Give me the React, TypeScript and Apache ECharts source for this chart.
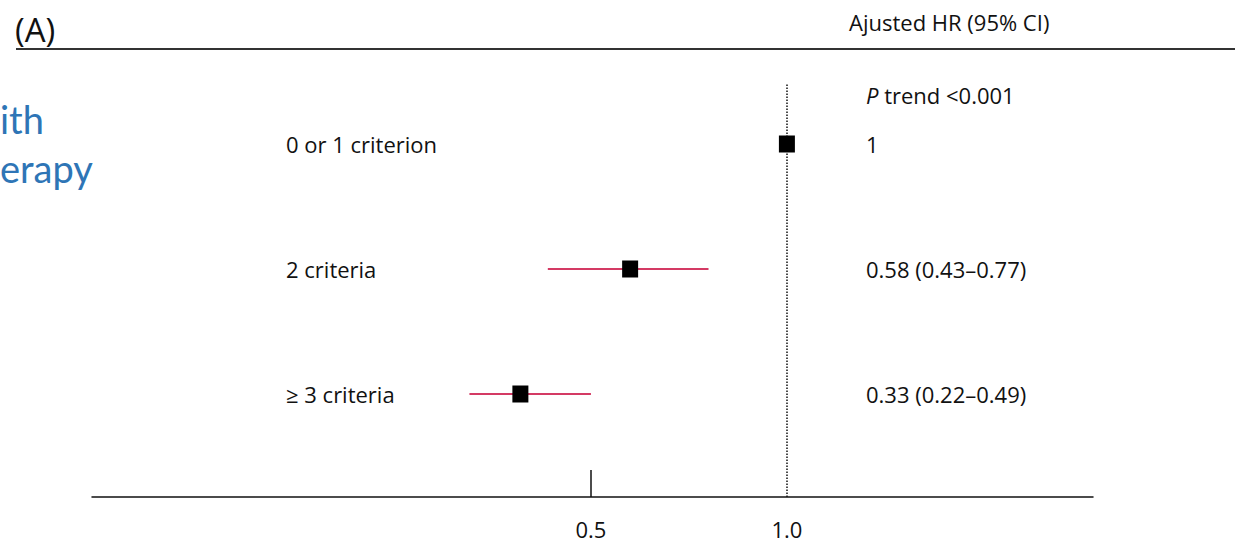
import React, { useEffect, useRef } from "react";
import * as echarts from "echarts";

const rowLabels = ["0 or 1 criterion", "2 criteria", "≥ 3 criteria"];
const hrValues = [1.0, 0.6, 0.32];
const ciLower = [NaN, 0.39, 0.19];
const ciUpper = [NaN, 0.8, 0.5];
const hrLabels = ["1", "0.58 (0.43–0.77)", "0.33 (0.22–0.49)"];
const xTickValues = [0.5];
const xLabelValues = [0.5, 1.0];
const referenceHR = 1.0;
const headerLeft = "(A)";
const headerRight = "Ajusted HR (95% CI)";
const trendText = "trend <0.001";
const sideTexts = ["ith", "erapy"];

const FONT = "'Open Sans', Lato, sans-serif";
const TEXT = "#111";
const FS = 22;

export default function App() {
  const ref = useRef<HTMLDivElement>(null);
  useEffect(() => {
    if (!ref.current) return;
    const chart = echarts.init(ref.current, undefined, { renderer: "svg" });
    const n = rowLabels.length;
    const yOf = (i: number) => n - 1 - i;
    const ciData = rowLabels
      .map((_, i) => [ciLower[i], ciUpper[i], yOf(i)])
      .filter((d) => !isNaN(d[0] as number));
    const pointData = hrValues.map((v, i) => [v, yOf(i)]);
    const yMin = -0.824;
    const yMax = 2.488;
    chart.setOption({
      animation: false,
      grid: { left: 92, right: 142, top: 83, bottom: 48 },
      xAxis: {
        type: "value",
        min: -0.773,
        max: 1.781,
        splitLine: { show: false },
        axisLine: { show: true, onZero: false, lineStyle: { color: "#111", width: 1.5 } },
        axisTick: {
          show: true,
          inside: true,
          length: 27,
          customValues: xTickValues,
          lineStyle: { color: "#111", width: 1.5 },
        },
        axisLabel: {
          customValues: xLabelValues,
          formatter: (v: number) => v.toFixed(1),
          margin: 21,
          fontFamily: FONT,
          fontSize: FS,
          color: TEXT,
        },
      },
      yAxis: [
        {
          type: "value",
          min: yMin,
          max: yMax,
          position: "left",
          splitLine: { show: false },
          axisLine: { show: false },
          axisTick: { show: false },
          axisLabel: {
            inside: true,
            margin: 194,
            customValues: rowLabels.map((_, i) => yOf(i)),
            formatter: (v: number) => rowLabels[n - 1 - Math.round(v)] ?? "",
            fontFamily: FONT,
            fontSize: FS,
            color: TEXT,
          },
        },
        {
          type: "value",
          min: yMin,
          max: yMax,
          position: "right",
          splitLine: { show: false },
          axisLine: { show: false },
          axisTick: { show: false },
          axisLabel: {
            inside: true,
            margin: 227,
            align: "left",
            customValues: rowLabels.map((_, i) => yOf(i)),
            formatter: (v: number) => hrLabels[n - 1 - Math.round(v)] ?? "",
            fontFamily: FONT,
            fontSize: FS,
            color: TEXT,
          },
        },
      ],
      graphic: [
        {
          type: "line",
          shape: { x1: 16, y1: 49, x2: 1235, y2: 49 },
          style: { stroke: "#333", lineWidth: 2 },
        },
        {
          type: "text",
          x: 15,
          y: 29,
          style: { text: headerLeft, font: `33px ${FONT}`, fill: TEXT, textVerticalAlign: "middle" },
        },
        {
          type: "text",
          x: 849,
          y: 22,
          style: { text: headerRight, font: `${FS}px ${FONT}`, fill: TEXT, textVerticalAlign: "middle" },
        },
        {
          type: "text",
          x: 866,
          y: 95,
          style: {
            text: "{i|P} " + trendText,
            font: `${FS}px ${FONT}`,
            fill: TEXT,
            textVerticalAlign: "middle",
            rich: { i: { fontStyle: "italic", fontFamily: FONT, fontSize: FS, fill: TEXT } },
          },
        },
        {
          type: "text",
          x: 0,
          y: 138,
          style: { text: sideTexts[0], font: `38px Lato, sans-serif`, fill: "#2e75b6", textVerticalAlign: "bottom" },
        },
        {
          type: "text",
          x: 0,
          y: 187,
          style: { text: sideTexts[1], font: `38px Lato, sans-serif`, fill: "#2e75b6", textVerticalAlign: "bottom" },
        },
      ],
      series: [
        {
          type: "custom",
          data: ciData,
          z: 2,
          renderItem: (params: any, api: any) => {
            const p1 = api.coord([api.value(0), api.value(2)]);
            const p2 = api.coord([api.value(1), api.value(2)]);
            return {
              type: "line",
              shape: { x1: p1[0], y1: p1[1], x2: p2[0], y2: p2[1] },
              style: { stroke: "#d43a64", lineWidth: 2 },
            };
          },
        },
        {
          type: "scatter",
          data: pointData,
          symbol: "rect",
          symbolSize: [16, 17],
          itemStyle: { color: "#000", opacity: 1 },
          z: 5,
          markLine: {
            silent: true,
            symbol: "none",
            label: { show: false },
            lineStyle: { type: "dotted", color: "#111", width: 1.5 },
            data: [{ xAxis: referenceHR }],
          },
        },
      ],
    });
    return () => chart.dispose();
  }, []);
  return (
    <div
      ref={ref}
      style={{ position: "fixed", left: 0, top: 0, width: 1235, height: 545, background: "#fff" }}
    />
  );
}
